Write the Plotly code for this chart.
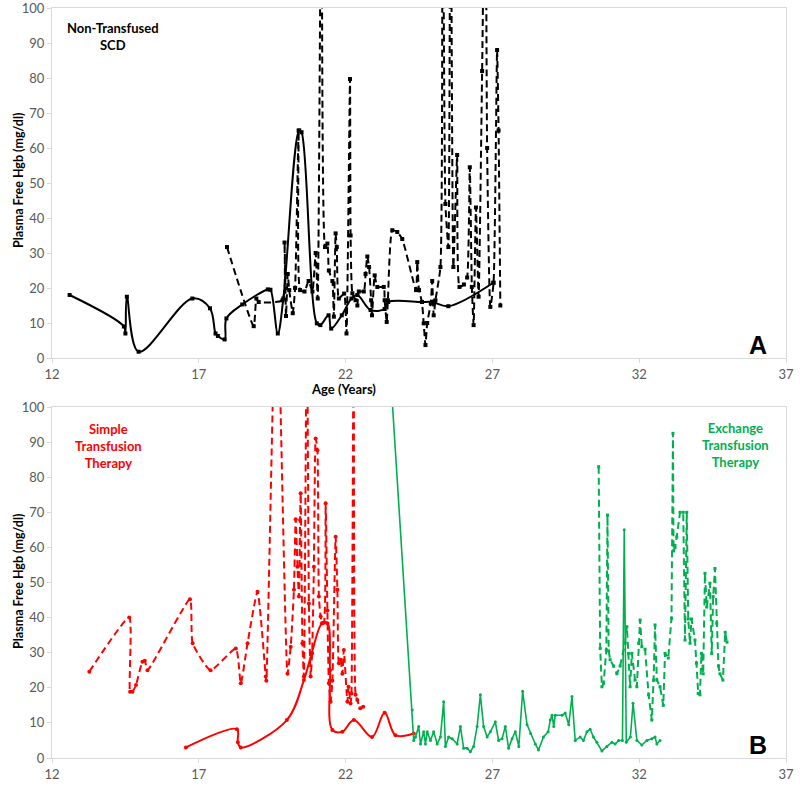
import plotly.graph_objects as go

# ---------------- data (age in years, plasma free Hgb mg/dl) ----------------
A_solid = [(12.6, 18), (14.45, 9), (14.5, 7), (14.55, 17.5), (14.95, 1.8), (16.78, 17),
           (17.38, 14.2), (17.57, 7), (17.65, 6.3), (17.88, 5.3), (17.94, 11.3), (18.48, 15.3),
           (19.35, 19.6), (19.44, 19.5), (19.69, 7), (19.88, 17), (20.42, 65), (20.5, 64.5),
           (21.02, 9.9), (21.14, 9.4), (21.42, 12.2), (21.51, 8.4), (21.87, 12.2), (22.2, 17),
           (22.4, 18), (22.85, 13.7), (23.33, 14), (23.45, 16), (24.6, 16), (24.95, 16),
           (25.5, 14.8), (27.03, 21.5)]

A_dashed = [(17.96, 31.7), (18.87, 9.1), (18.96, 17), (19.04, 16), (19.85, 16.5), (19.92, 33),
            (19.97, 12), (20.03, 24), (20.08, 19.4), (20.2, 12.8), (20.28, 20), (20.4, 65),
            (20.45, 19.4), (20.6, 19), (20.74, 22), (20.87, 19), (20.98, 30), (21.05, 17),
            (21.18, 150), (21.3, 31.7), (21.38, 32.7), (21.43, 25), (21.55, 22), (21.6, 11.8),
            (21.66, 35.6), (21.7, 31.7), (21.77, 17), (21.95, 18.4), (22.03, 7), (22.15, 79.7),
            (22.17, 35), (22.23, 18.5), (22.34, 16.5), (22.4, 15), (22.45, 19), (22.62, 19),
            (22.68, 24), (22.74, 29), (22.8, 26), (22.87, 16.5), (22.9, 12.2), (22.99, 23.6),
            (23.08, 20.3), (23.3, 20.3), (23.33, 16.5), (23.4, 10.3), (23.44, 16.5), (23.59, 36.5),
            (23.76, 36), (23.93, 34), (24.4, 19.4), (24.44, 27.4), (24.5, 19.4), (24.6, 16),
            (24.66, 9.9), (24.72, 3.7), (24.78, 10), (24.9, 15.6), (24.95, 22), (25.0, 12.2),
            (25.06, 16.5), (25.23, 26), (25.3, 160), (25.4, 44), (25.5, 31.7), (25.57, 160),
            (25.67, 26), (25.8, 58), (25.88, 20.3), (26.03, 21), (26.14, 23), (26.23, 54.5),
            (26.3, 20.3), (26.36, 9.4), (26.44, 43), (26.53, 17.5), (26.65, 82), (26.76, 150),
            (26.82, 60), (26.93, 14.6), (27.04, 21.5), (27.16, 88), (27.21, 65), (27.27, 15)]

B_red_dashed = [(13.27, 24.6), (14.63, 40), (14.66, 18.9), (14.74, 18.9), (14.86, 20.8),
                (15.08, 27.4), (15.16, 27.7), (15.25, 25), (16.7, 45.2), (16.79, 32.7),
                (17.4, 25), (18.26, 31.2), (18.43, 21.3), (18.66, 32.7), (19.0, 47.4),
                (19.28, 23.2), (19.3, 22), (19.65, 140), (20.02, 24), (20.13, 31.7),
                (20.24, 47.9), (20.3, 68), (20.36, 54.5), (20.41, 46), (20.45, 67.8),
                (20.47, 75.4), (20.53, 32.7), (20.58, 23.2), (20.68, 130), (20.75, 44),
                (20.81, 23.2), (20.86, 29.8), (20.92, 54.5), (20.98, 91), (21.04, 87.7),
                (21.09, 46), (21.15, 40.3), (21.2, 38.4), (21.26, 38.5), (21.32, 72.6),
                (21.38, 42), (21.43, 21.3), (21.49, 16), (21.55, 22), (21.66, 63),
                (21.72, 47.9), (21.77, 27), (21.83, 28), (21.89, 24), (21.94, 30.8),
                (22.06, 16), (22.1, 20.3), (22.17, 15.5), (22.2, 18.4), (22.28, 140),
                (22.34, 18), (22.4, 16.5), (22.5, 14.2), (22.6, 14.6)]

B_red_solid = [(16.56, 3), (18.3, 8.2), (18.33, 4.5), (18.43, 3), (20.0, 10.8), (20.58, 22.2),
               (20.85, 30), (21.2, 38.4), (21.38, 38.4), (21.47, 25), (21.55, 8), (21.89, 7.5),
               (22.28, 10.8), (22.9, 6), (23.33, 12.9), (23.7, 6.5), (24.32, 7)]

B_green_solid = [(23.45, 120), (24.27, 13.7), (24.32, 5), (24.38, 6), (24.49, 9), (24.55, 4),
                 (24.66, 7.5), (24.72, 4), (24.78, 7.5), (24.89, 5), (25.0, 7.5), (25.12, 4),
                 (25.23, 6), (25.34, 16), (25.4, 3.3), (25.51, 6), (25.63, 5.5), (25.8, 4),
                 (25.91, 9), (26.02, 2.8), (26.14, 2.8), (26.25, 1.8), (26.36, 3.3), (26.48, 9),
                 (26.59, 18), (26.7, 9), (26.82, 6), (26.93, 7.5), (27.1, 10.3), (27.21, 5),
                 (27.33, 5.5), (27.44, 9), (27.55, 2.8), (27.67, 5.5), (27.78, 7.5), (27.9, 3.3),
                 (28.03, 19), (28.18, 9.5), (28.3, 7), (28.46, 4), (28.57, 2.3), (28.74, 6),
                 (28.9, 7.5), (28.97, 10.8), (29.03, 12.2), (29.09, 9), (29.14, 12.2),
                 (29.37, 12.2), (29.48, 12.8), (29.6, 9.5), (29.71, 17.5), (29.82, 5),
                 (29.99, 6), (30.1, 5), (30.22, 7.5), (30.33, 8.2), (30.44, 6), (30.56, 4.5),
                 (30.73, 2), (30.9, 3.3), (31.07, 4.5), (31.18, 4), (31.3, 5), (31.43, 5),
                 (31.49, 65), (31.56, 4.5), (31.7, 6), (31.79, 15.6), (31.92, 5), (32.09, 3.7),
                 (32.26, 5), (32.43, 5.5), (32.54, 6), (32.6, 4), (32.71, 5)]

B_green_dashed = [(30.62, 83), (30.67, 31.2), (30.73, 20.3), (30.79, 21.3), (30.88, 30.8),
                  (30.92, 69.2), (30.96, 30.5), (31.01, 28), (31.13, 26.2), (31.24, 24),
                  (31.35, 26.2), (31.52, 32.7), (31.58, 37.4), (31.64, 29.8), (31.69, 20.3),
                  (31.75, 29.8), (31.86, 22.2), (31.92, 20.3), (31.98, 32.7), (32.03, 39.3),
                  (32.09, 31.7), (32.2, 31), (32.32, 18), (32.43, 10.8), (32.49, 22.2),
                  (32.54, 37.9), (32.6, 22.2), (32.71, 20.3), (32.82, 15), (32.88, 29.8),
                  (32.99, 28.5), (33.1, 39.8), (33.15, 92.5), (33.17, 59), (33.22, 60),
                  (33.28, 63), (33.39, 70), (33.5, 70), (33.56, 33.6), (33.62, 70),
                  (33.67, 39.6), (33.73, 32.7), (33.78, 39.6), (33.9, 33.6), (33.95, 27),
                  (34.01, 18.4), (34.07, 18), (34.12, 29.8), (34.18, 24), (34.24, 52.6),
                  (34.3, 43), (34.41, 49.8), (34.47, 29.8), (34.52, 46), (34.58, 54),
                  (34.64, 38.4), (34.7, 26.2), (34.75, 24), (34.85, 22.2), (34.93, 35.8),
                  (34.99, 33)]

x_ticks = [12, 17, 22, 27, 32, 37]
y_ticks = [0, 10, 20, 30, 40, 50, 60, 70, 80, 90, 100]

# ---------------- figure ----------------
BLACK = "#000000"
RED = "#FF0000"
GREEN = "#00B050"
DASH = "7px,4px"


def add(series, color, dash, width, symbol, msize, xa, ya, shape="spline", smooth=1.0):
    xs = [p[0] for p in series]
    ys = [p[1] for p in series]
    line = dict(color=color, width=width, dash=dash, shape=shape)
    if shape == "spline":
        line["smoothing"] = smooth
    fig.add_trace(go.Scatter(x=xs, y=ys, mode="lines+markers", xaxis=xa, yaxis=ya,
                             line=line, marker=dict(color=color, size=msize, symbol=symbol),
                             showlegend=False, hoverinfo="x+y"))


fig = go.Figure()
add(A_solid, BLACK, "solid", 2, "square", 4, "x", "y", smooth=1.0)
add(A_dashed, BLACK, DASH, 2, "square", 4, "x", "y", smooth=0.5)
add(B_red_dashed, RED, DASH, 2, "circle", 4, "x2", "y2", smooth=0.5)
add(B_red_solid, RED, "solid", 2, "circle", 4, "x2", "y2", smooth=1.0)
add(B_green_solid, GREEN, "solid", 1.6, "circle", 3, "x2", "y2", shape="linear")
add(B_green_dashed, GREEN, DASH, 2, "square", 3, "x2", "y2", shape="linear")

tickfont = dict(family="Lato, Open Sans, sans-serif", size=13, color="#595959")
axis_common = dict(range=[12, 37], tickmode="array", tickvals=x_ticks,
                   ticktext=[str(t) for t in x_ticks], showgrid=False, zeroline=False,
                   showline=True, linecolor="#D9D9D9", linewidth=1, mirror=True,
                   ticks="outside", ticklen=4, tickcolor="#D9D9D9", tickfont=tickfont,
                   automargin=False, ticklabeloverflow="allow")
yaxis_common = dict(range=[0, 100], tickmode="array", tickvals=y_ticks,
                    ticktext=[str(t) for t in y_ticks], showgrid=False, zeroline=False,
                    showline=True, linecolor="#D9D9D9", linewidth=1, mirror=True,
                    ticks="outside", ticklen=4, tickcolor="#D9D9D9", tickfont=tickfont,
                    automargin=False, ticklabeloverflow="allow")

x0, x1 = 52 / 800, 786 / 800
fig.update_layout(
    template="none",
    width=800, height=800,
    margin=dict(l=0, r=0, t=0, b=0, pad=0),
    paper_bgcolor="white", plot_bgcolor="white",
    xaxis=dict(domain=[x0, x1], anchor="y", **axis_common),
    yaxis=dict(domain=[1 - 358 / 800, 1 - 8 / 800], anchor="x", **yaxis_common),
    xaxis2=dict(domain=[x0, x1], anchor="y2", **axis_common),
    yaxis2=dict(domain=[1 - 758 / 800, 1 - 407 / 800], anchor="x2", **yaxis_common),
)

bold = "Lato, Open Sans, sans-serif"
ann = [
    dict(text="<b>Non-Transfused<br>SCD</b>", x=113, y=36, color=BLACK, size=13),
    dict(text="<b>Simple<br>Transfusion<br>Therapy</b>", x=108, y=446, color=RED, size=13),
    dict(text="<b>Exchange<br>Transfusion<br>Therapy</b>", x=735, y=445, color=GREEN, size=13),
    dict(text="<b>Age (Years)</b>", x=343, y=389, color=BLACK, size=13),
]
for a in ann:
    fig.add_annotation(text=a["text"], x=a["x"] / 800, y=1 - a["y"] / 800, xref="paper",
                       yref="paper", showarrow=False, xanchor="center", yanchor="middle",
                       font=dict(family=bold, size=a["size"], color=a["color"]))

for yc in (181, 582):
    fig.add_annotation(text="<b>Plasma Free Hgb (mg/dl)</b>", x=18 / 800, y=1 - yc / 800,
                       xref="paper", yref="paper", showarrow=False, textangle=-90,
                       xanchor="center", yanchor="middle",
                       font=dict(family=bold, size=12.5, color=BLACK))

for lab, yc in (("A", 345), ("B", 745)):
    fig.add_annotation(text="<b>" + lab + "</b>", x=758 / 800, y=1 - yc / 800, xref="paper",
                       yref="paper", showarrow=False, xanchor="center", yanchor="middle",
                       font=dict(family="Liberation Sans, Arial, sans-serif", size=25,
                                 color=BLACK))

fig.write_html("out.html",
               config={"displayModeBar": False},
               post_script="document.body.style.margin='0';"
                           "document.body.style.overflow='hidden';")
